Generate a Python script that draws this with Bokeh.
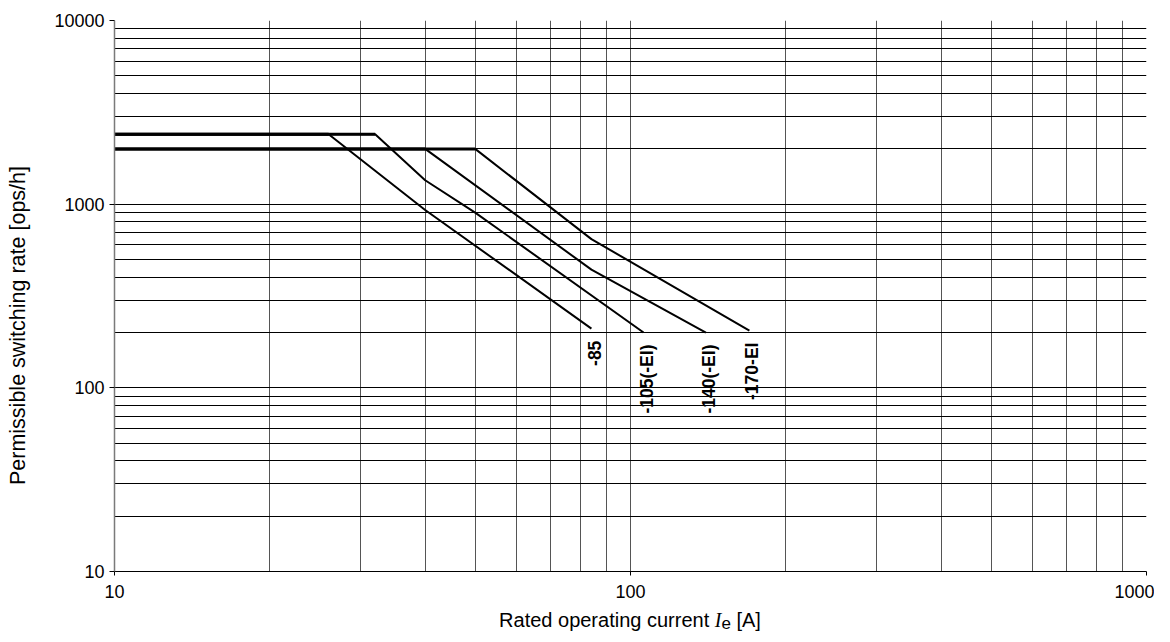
import math
from bokeh.plotting import figure
from bokeh.layouts import column
from bokeh.models import FixedTicker, PrintfTickFormatter, Label, ColumnDataSource, Div
from bokeh.embed import file_html
from bokeh.resources import INLINE
from bokeh.core.properties import value

# ---- data ----
series_names = ["-85", "-105(-EI)", "-140(-EI)", "-170-EI"]
current_85 = [10, 26, 40, 84]
rate_85 = [2400, 2400, 930, 210]
current_105 = [10, 32, 40, 50, 106]
rate_105 = [2400, 2400, 1350, 900, 200]
current_140 = [10, 40, 84, 140]
rate_140 = [2000, 2000, 440, 200]
current_170 = [10, 50, 84, 170]
rate_170 = [2000, 2000, 645, 205]

x_major_ticks = [10, 100, 1000]
y_major_ticks = [10, 100, 1000, 10000]
minor_factors = [2, 3, 4, 5, 6, 7, 8, 9]

x_minor_ticks = [m * d for d in x_major_ticks[:-1] for m in minor_factors]
y_minor_ticks = [m * d for d in y_major_ticks[:-1] for m in minor_factors]

FONT = "Liberation Sans"

p = figure(width=1154, height=609,
           x_axis_type="log", y_axis_type="log",
           x_range=(10, 1000), y_range=(10, 10000),
           output_backend="svg", toolbar_location=None,
           min_border_left=114, min_border_right=8,
           min_border_top=20, min_border_bottom=38,
           background_fill_color="white", border_fill_color="white")
p.outline_line_color = None

p.xaxis.ticker = FixedTicker(ticks=x_major_ticks, minor_ticks=x_minor_ticks)
p.yaxis.ticker = FixedTicker(ticks=y_major_ticks, minor_ticks=y_minor_ticks)
p.xaxis.formatter = PrintfTickFormatter(format="%d")
p.yaxis.formatter = PrintfTickFormatter(format="%d")

for ax in (p.xaxis, p.yaxis):
    ax.major_label_text_font = FONT
    ax.major_label_text_font_size = "18px"
    ax.major_label_text_color = "black"
    ax.minor_tick_in = 0
    ax.minor_tick_out = 0
    ax.major_tick_in = 0
    ax.major_tick_line_color = "black"

p.xaxis.major_tick_out = 4
p.xaxis.major_label_standoff = 9
p.xaxis.axis_line_color = "black"
p.yaxis.major_tick_out = 5
p.yaxis.major_label_standoff = 5
p.yaxis.axis_line_color = "#7a7a7a"
p.yaxis.axis_line_width = 1.5

p.xgrid.grid_line_color = "#555555"
p.xgrid.minor_grid_line_color = "#555555"
p.xgrid.grid_line_width = 1
p.xgrid.minor_grid_line_width = 1
p.ygrid.grid_line_color = "black"
p.ygrid.minor_grid_line_color = "black"
p.ygrid.grid_line_width = 1
p.ygrid.minor_grid_line_width = 1

series = [(current_85, rate_85), (current_105, rate_105),
          (current_140, rate_140), (current_170, rate_170)]
for cx, ry in series:
    p.line(cx, ry, line_color="black", line_width=2)
    p.line(cx[:2], ry[:2], line_color="black", line_width=3)

lab_src = ColumnDataSource(dict(
    x=[s[0][-1] for s in series],
    y=[s[1][-1] for s in series],
    text=series_names,
))
p.text(x="x", y="y", text="text", source=lab_src,
       angle=math.pi / 2, text_align="right", text_baseline="middle",
       x_offset=3, y_offset=12,
       text_font=value(FONT), text_font_style="bold",
       text_font_size="17.5px", text_color="black")

# y axis title (side panel)
p.add_layout(Label(x=-10, y=246, x_units="screen", y_units="screen",
                   text="Permissible switching rate [ops/h]", angle=math.pi / 2,
                   text_align="center", text_baseline="middle",
                   text_font=FONT, text_font_size="21.5px", text_color="black"), "left")

# x axis title with italic I and subscript e
xtitle = Div(
    text=('Rated operating current '
          '<span style="font-family:\'Liberation Serif\';font-style:italic;">I</span>'
          '<span style="font-size:17px;position:relative;top:2px;">e</span> [A]'),
    width=1032, height=33, margin=(0, 0, 0, 114),
    styles={"font-family": "'Liberation Sans', Arial, sans-serif",
            "font-size": "20px", "color": "black", "text-align": "center",
            "width": "1032px", "line-height": "23px"},
)

layout = column(p, xtitle, spacing=0)
open("out.html", "w").write(file_html(layout, INLINE))
